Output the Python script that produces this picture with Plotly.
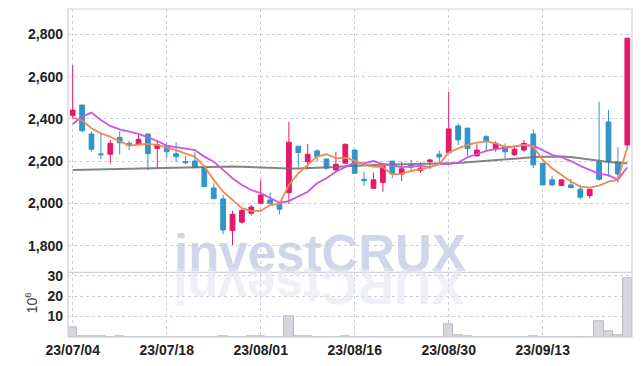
import plotly.graph_objects as go

# ---------------- data ----------------
dates = [
    "2023-07-04", "2023-07-05", "2023-07-06", "2023-07-07", "2023-07-10", "2023-07-11", "2023-07-12",
    "2023-07-13", "2023-07-14", "2023-07-17", "2023-07-18", "2023-07-19", "2023-07-20", "2023-07-21",
    "2023-07-24", "2023-07-25", "2023-07-26", "2023-07-27", "2023-07-28", "2023-07-31",
    "2023-08-01", "2023-08-02", "2023-08-03", "2023-08-04", "2023-08-07", "2023-08-08", "2023-08-09",
    "2023-08-10", "2023-08-11", "2023-08-14", "2023-08-16", "2023-08-17", "2023-08-18", "2023-08-21",
    "2023-08-22", "2023-08-23", "2023-08-24", "2023-08-25", "2023-08-28", "2023-08-29", "2023-08-30",
    "2023-08-31", "2023-09-01", "2023-09-04", "2023-09-05", "2023-09-06", "2023-09-07", "2023-09-08",
    "2023-09-11", "2023-09-12", "2023-09-13", "2023-09-14", "2023-09-15", "2023-09-18", "2023-09-19",
    "2023-09-20", "2023-09-21", "2023-09-22", "2023-09-25", "2023-09-26",
]
opens = [2416, 2466, 2329, 2235, 2233, 2313, 2285, 2280, 2329, 2260,
         2274, 2235, 2198, 2201, 2174, 2074, 2022, 1872, 1912, 1954,
         2001, 2017, 2001, 2052, 2271, 2198, 2249, 2211, 2159, 2191,
         2253, 2115, 2072, 2099, 2201, 2139, 2181, 2156, 2198, 2233,
         2241, 2367, 2357, 2225, 2316, 2260, 2269, 2231, 2253, 2329,
         2191, 2112, 2085, 2088, 2068, 2037, 2197, 2386, 2197, 2277]
highs = [2655, 2466, 2340, 2329, 2301, 2343, 2296, 2332, 2329, 2299,
         2287, 2290, 2225, 2245, 2176, 2096, 2041, 1965, 1973, 1992,
         2112, 2052, 2009, 2387, 2271, 2282, 2257, 2211, 2245, 2285,
         2253, 2151, 2146, 2183, 2201, 2198, 2206, 2195, 2212, 2250,
         2529, 2380, 2357, 2280, 2324, 2296, 2285, 2266, 2301, 2351,
         2191, 2131, 2112, 2116, 2088, 2068, 2482, 2443, 2266, 2782]
lows = [2403, 2337, 2245, 2211, 2190, 2233, 2253, 2280, 2159, 2168,
        2214, 2195, 2187, 2170, 2078, 2023, 1855, 1804, 1905, 1943,
        1997, 1998, 1949, 1998, 2172, 2162, 2198, 2160, 2146, 2191,
        2143, 2083, 2072, 2056, 2120, 2107, 2156, 2146, 2164, 2190,
        2235, 2277, 2219, 2225, 2253, 2245, 2214, 2225, 2245, 2167,
        2088, 2083, 2085, 2075, 2020, 2025, 2108, 2127, 2099, 2257]
closes = [2442, 2345, 2257, 2231, 2285, 2287, 2274, 2304, 2236, 2278,
          2245, 2222, 2193, 2170, 2080, 2023, 1875, 1949, 1968, 1984,
          2040, 2001, 1973, 2290, 2241, 2233, 2222, 2167, 2186, 2280,
          2143, 2108, 2112, 2175, 2140, 2164, 2172, 2168, 2206, 2220,
          2353, 2301, 2260, 2253, 2293, 2285, 2245, 2257, 2285, 2183,
          2088, 2088, 2112, 2075, 2030, 2068, 2115, 2198, 2140, 2782]
volumes = [4.6, 0.4, 0.4, 0.4, 0.1, 0.4, 0.1, 0.1, 0.1, 0.1,
           0.1, 0.1, 0.1, 0.1, 0.1, 0.1, 0.4, 0.1, 0.1, 0.4,
           0.4, 0.1, 0.1, 10.1, 0.4, 0.4, 0.1, 0.1, 0.1, 0.4,
           0.1, 0.1, 0.1, 0.1, 0.1, 0.1, 0.1, 0.1, 0.1, 0.1,
           6.1, 0.8, 0.4, 0.1, 0.1, 0.1, 0.1, 0.1, 0.1, 0.4,
           0.1, 0.1, 0.1, 0.1, 0.1, 0.1, 7.5, 2.7, 0.8, 28.7]
ma5 = [2406, 2392, 2356, 2332, 2316, 2296, 2274, 2278, 2282, 2278,
       2267, 2253, 2236, 2222, 2176, 2112, 2056, 2017, 1978, 1964,
       1966, 1993, 1998, 2088, 2143, 2183, 2222, 2233, 2214, 2217,
       2203, 2183, 2175, 2172, 2138, 2140, 2154, 2162, 2172, 2187,
       2241, 2261, 2277, 2288, 2294, 2285, 2269, 2269, 2277, 2269,
       2206, 2167, 2135, 2104, 2080, 2075, 2085, 2104, 2112, 2266]
ma10 = [2376, 2411, 2430, 2395, 2367, 2351, 2340, 2329, 2313, 2296,
        2274, 2266, 2261, 2253, 2222, 2198, 2159, 2120, 2088, 2064,
        2049, 2025, 2004, 2012, 2036, 2056, 2096, 2120, 2151, 2172,
        2194, 2190, 2201, 2187, 2179, 2172, 2175, 2178, 2172, 2186,
        2187, 2194, 2219, 2235, 2249, 2257, 2264, 2269, 2277, 2274,
        2250, 2230, 2219, 2201, 2178, 2159, 2140, 2134, 2112, 2172]
ma60 = [2159, 2160, 2161, 2162, 2163, 2164, 2165, 2166, 2167, 2168,
        2170, 2171, 2172, 2173, 2175, 2176, 2176, 2175, 2174, 2172,
        2169, 2168, 2167, 2166, 2166, 2167, 2169, 2171, 2173, 2176,
        2179, 2181, 2182, 2183, 2184, 2185, 2186, 2187, 2187, 2188,
        2190, 2192, 2195, 2198, 2201, 2204, 2208, 2212, 2216, 2220,
        2222, 2223, 2223, 2220, 2214, 2207, 2200, 2196, 2193, 2191]

tick_dates = dates[0::10]
tick_labels = [d[2:].replace("-", "/") for d in tick_dates]
price_ticks = [1800, 2000, 2200, 2400, 2600, 2800]
volume_ticks = [10, 20, 30]

# ---------------- style ----------------
UP = "#e3196a"
DOWN = "#2e96c8"
GRID = "#c9cde0"
BORDER = "#cfd0d8"
FAMILY = "Liberation Sans, Arial, sans-serif"
TICKFONT = dict(family=FAMILY, size=14, color="#222222", weight="bold")
SPLIT = 0.1973

fig = go.Figure()

fig.add_trace(go.Bar(
    x=dates, y=volumes, xaxis="x", yaxis="y",
    marker=dict(color="#d6d6dc", line=dict(color="#b9b9c2", width=1)),
    showlegend=False, hoverinfo="skip"))

fig.add_trace(go.Candlestick(
    x=dates, open=opens, high=highs, low=lows, close=closes,
    xaxis="x2", yaxis="y2",
    increasing=dict(line=dict(color=UP, width=1), fillcolor=UP),
    decreasing=dict(line=dict(color=DOWN, width=1), fillcolor=DOWN),
    whiskerwidth=0, showlegend=False))

fig.add_trace(go.Scatter(x=dates, y=ma60, xaxis="x2", yaxis="y2", mode="lines",
                         line=dict(color="rgba(110,110,110,0.85)", width=2), showlegend=False))
fig.add_trace(go.Scatter(x=dates, y=ma10, xaxis="x2", yaxis="y2", mode="lines",
                         line=dict(color="#cc55e6", width=1.8), showlegend=False))
fig.add_trace(go.Scatter(x=dates, y=ma5, xaxis="x2", yaxis="y2", mode="lines",
                         line=dict(color="#ef8a52", width=1.8), showlegend=False))

xcommon = dict(type="category", categoryorder="array", categoryarray=dates,
               range=[-0.5, len(dates) - 0.5], tickvals=tick_dates, ticktext=tick_labels,
               showgrid=True, gridcolor=GRID, griddash="dot", gridwidth=1,
               zeroline=False, showline=False, ticks="", automargin=False)

# the page body adds an 8px offset, so the figure is 8px smaller than the window
fig.update_layout(
    width=634, height=358,
    margin=dict(l=60, r=10, t=1, b=29),
    paper_bgcolor="white", plot_bgcolor="white",
    bargap=0, boxgap=0.28,
    xaxis=dict(xcommon, anchor="y", domain=[0, 1], tickfont=TICKFONT, ticklabelstandoff=3),
    xaxis2=dict(xcommon, anchor="y2", domain=[0, 1], matches="x", showticklabels=False,
                rangeslider=dict(visible=False)),
    yaxis=dict(domain=[0, SPLIT], range=[0, 31.7], tickvals=volume_ticks,
               showgrid=True, gridcolor=GRID, griddash="dot", zeroline=False,
               tickfont=TICKFONT, ticks="", ticklabelstandoff=4, automargin=False),
    yaxis2=dict(domain=[SPLIT, 1], range=[1675, 2920], tickvals=price_ticks, tickformat=",",
                showgrid=True, gridcolor=GRID, griddash="dot", zeroline=False,
                tickfont=TICKFONT, ticks="", ticklabelstandoff=4, automargin=False),
    hovermode=False,
)

# frame lines
fig.add_shape(type="rect", xref="paper", yref="paper", x0=0, x1=1, y0=0, y1=1,
              line=dict(color=BORDER, width=1.2))
fig.add_shape(type="line", xref="paper", yref="paper", x0=0, x1=1, y0=SPLIT, y1=SPLIT,
              line=dict(color=BORDER, width=1.2))

# watermark and reflection
WM_FONT = "Liberation Sans, Arial, sans-serif"
fig.add_annotation(text="<b>investCRUX</b>", xref="paper", yref="paper", x=0.446, y=0.1626,
                   xanchor="center", yanchor="bottom", showarrow=False,
                   font=dict(family=WM_FONT, size=51, color="rgba(196,204,228,0.8)"))
fig.add_annotation(text="<b>XURCtsevni</b>", xref="paper", yref="paper", x=0.446, y=0.252,
                   xanchor="center", yanchor="top", showarrow=False, textangle=180,
                   font=dict(family=WM_FONT, size=51, color="rgba(228,230,240,0.6)"))

# volume unit label
fig.add_annotation(text="10<sup>6</sup>", xref="paper", yref="paper", x=-0.066, y=0.105,
                   xanchor="center", yanchor="middle", showarrow=False, textangle=-90,
                   font=dict(family=FAMILY, size=14, color="#444444"))

fig.write_html("out.html")
